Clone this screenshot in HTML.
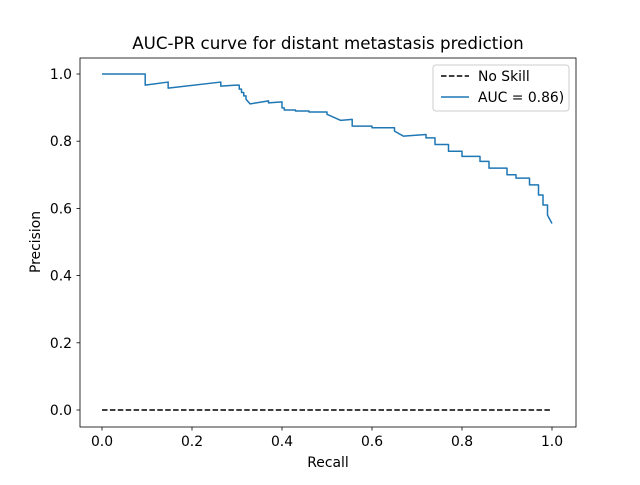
<!DOCTYPE html>
<html><head><meta charset="utf-8"><style>
body{margin:0;background:#fff;}
svg text{font-family:"DejaVu Sans","Liberation Sans",sans-serif;fill:#000;}
</style></head><body>
<svg id="chart" width="640" height="480">
<rect width="640" height="480" fill="#fff"/>
<text x="328" y="49" font-size="16.7" text-anchor="middle">AUC-PR curve for distant metastasis prediction</text>
<g id="ticks"></g>
<g id="plot"></g>
<rect x="80" y="58" width="496" height="369" fill="none" stroke="#000" stroke-width="0.8"/>
<text x="328" y="467" font-size="13.9" text-anchor="middle">Recall</text>
<text transform="translate(40,242) rotate(-90)" font-size="13.9" text-anchor="middle">Precision</text>
<g>
<rect x="433" y="65" width="136" height="46" rx="3" fill="#fff" stroke="#ccc"/>
<line x1="441" y1="76" x2="469" y2="76" stroke="#000" stroke-width="1.5" stroke-dasharray="5.5,2.4"/>
<text x="478" y="81" font-size="13.9">No Skill</text>
<line x1="441" y1="97" x2="469" y2="97" stroke="#1f77b4" stroke-width="1.5"/>
<text x="478" y="102" font-size="13.9">AUC = 0.86)</text>
</g>
</svg>
<script>
const xTicks=[0,0.2,0.4,0.6,0.8,1.0];
const yTicks=[0,0.2,0.4,0.6,0.8,1.0];
const noSkillRecall=[0,1];
const noSkillPrecision=[0,0];
const recall=[0,0.096,0.096,0.147,0.147,0.264,0.264,0.298,0.305,0.305,0.31,0.31,0.315,0.315,0.32,0.32,0.329,0.37,0.37,0.40,0.40,0.405,0.405,0.43,0.43,0.46,0.46,0.50,0.50,0.53,0.556,0.556,0.6,0.6,0.65,0.65,0.67,0.72,0.72,0.74,0.74,0.77,0.77,0.8,0.8,0.84,0.84,0.86,0.86,0.9,0.9,0.92,0.92,0.95,0.95,0.97,0.97,0.98,0.98,0.99,0.99,1.0];
const precision=[1,1,0.967,0.976,0.958,0.976,0.964,0.967,0.967,0.955,0.955,0.945,0.945,0.935,0.935,0.925,0.911,0.92,0.914,0.917,0.899,0.899,0.893,0.893,0.89,0.89,0.887,0.887,0.88,0.862,0.865,0.845,0.845,0.84,0.84,0.83,0.815,0.82,0.81,0.81,0.79,0.79,0.77,0.77,0.755,0.755,0.74,0.74,0.72,0.72,0.70,0.70,0.69,0.69,0.67,0.67,0.64,0.64,0.61,0.61,0.58,0.555];
const X=v=>102+450*v, Y=v=>410-336*v;
const NS='http://www.w3.org/2000/svg';
const tg=document.getElementById('ticks'), pg=document.getElementById('plot');
function mk(tag,a,parent){const e=document.createElementNS(NS,tag);for(const k in a)e.setAttribute(k,a[k]);parent.appendChild(e);return e;}
xTicks.forEach(t=>{
 const l=mk('line',{x1:X(t),x2:X(t),y1:427,y2:430.5,stroke:'#000','stroke-width':0.8},tg);
 
 
 const s=mk('text',{x:X(t),y:446,'font-size':13.9,'text-anchor':'middle'},tg);s.textContent=t.toFixed(1);
 
 
});
yTicks.forEach(t=>{
 const l=mk('line',{x1:76.5,x2:80,y1:Y(t),y2:Y(t),stroke:'#000','stroke-width':0.8},tg);
 
 
 const s=mk('text',{x:72,y:Y(t)+5,'font-size':13.9,'text-anchor':'end'},tg);s.textContent=t.toFixed(1);
 
 
});
const ns=mk('polyline',{points:noSkillRecall.map((r,i)=>X(r)+','+Y(noSkillPrecision[i])).join(' '),fill:'none',stroke:'#000','stroke-width':1.5,'stroke-dasharray':'5.5,2.4'},pg);


const pr=mk('polyline',{points:recall.map((r,i)=>X(r)+','+Y(precision[i])).join(' '),fill:'none',stroke:'#1f77b4','stroke-width':1.5,'stroke-linejoin':'round'},pg);


</script>
</body></html>
